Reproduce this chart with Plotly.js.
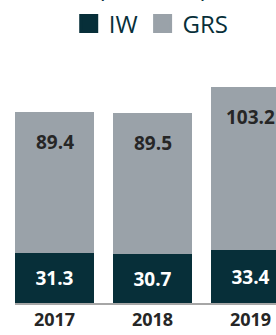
<!DOCTYPE html>
<html><head><meta charset="utf-8">
<script src="https://cdn.plot.ly/plotly-3.0.1.min.js"></script>
<style>html,body{margin:0;padding:0;overflow:hidden;background:#fff}#c{width:276px;height:335px}</style>
</head><body><div id="c"></div>
<script>
var years = ['2017', '2018', '2019'];
var iw = [31.3, 30.7, 33.4];
var grs = [89.4, 89.5, 103.2];
var titleText = '(€ million)';

var dark = '#072f39';
var gray = '#9aa2a9';
var FONT = 'Open Sans, sans-serif';

var totals = years.map(function (y, i) { return iw[i] + grs[i]; });

var traces = [
  {type: 'bar', x: years, y: iw, name: 'IW', marker: {color: dark}, showlegend: false,
   text: iw.map(function (v) { return v.toFixed(1); }), textposition: 'inside', insidetextanchor: 'middle',
   textangle: 0, textfont: {family: FONT, size: 19, color: '#ffffff', weight: 'bold'}, hoverinfo: 'skip'},
  {type: 'bar', x: years, y: grs, name: 'GRS', marker: {color: gray}, showlegend: false, hoverinfo: 'skip'},
  {type: 'scatter', mode: 'markers', x: [null], y: [null], name: 'IW',
   marker: {symbol: 'square', size: 16, color: dark, line: {width: 3, color: dark}}},
  {type: 'scatter', mode: 'markers', x: [null], y: [null], name: 'GRS',
   marker: {symbol: 'square', size: 16, color: gray, line: {width: 3, color: gray}}}
];

var annotations = years.map(function (y, i) {
  return {x: i, y: totals[i], xref: 'x', yref: 'y', yshift: -30, showarrow: false,
    text: grs[i].toFixed(1), font: {family: FONT, size: 19, color: '#262626', weight: 'bold'}};
});

var layout = {
  width: 276, height: 335,
  margin: {l: 15, r: 0, t: 60, b: 32},
  paper_bgcolor: '#ffffff', plot_bgcolor: '#ffffff',
  barmode: 'stack', bargap: 0.194,
  title: {text: titleText, font: {family: FONT, size: 24, color: dark},
    x: 0.553, xanchor: 'center', xref: 'container', y: 1, yref: 'container', yanchor: 'bottom', pad: {b: 3}},
  showlegend: true,
  legend: {orientation: 'h', traceorder: 'normal', x: 0.249, xref: 'container', xanchor: 'left', y: 1 - 24 / 335, yref: 'container',
    yanchor: 'middle', font: {family: FONT, size: 24, color: dark}, itemsizing: 'trace', bgcolor: 'rgba(0,0,0,0)'},
  xaxis: {type: 'category', range: [-0.403, 2.26], showgrid: false, zeroline: false,
    showline: true, linecolor: '#a6a6a6', linewidth: 1.5, ticks: '', ticklen: 0,
    tickfont: {family: FONT, size: 18, color: '#262626', weight: 'bold'}, fixedrange: true},
  yaxis: {range: [0, 153.5], visible: false, showgrid: false, zeroline: false, fixedrange: true},
  annotations: annotations
};

Plotly.newPlot('c', traces, layout, {displayModeBar: false, staticPlot: true});
</script>
</body></html>
